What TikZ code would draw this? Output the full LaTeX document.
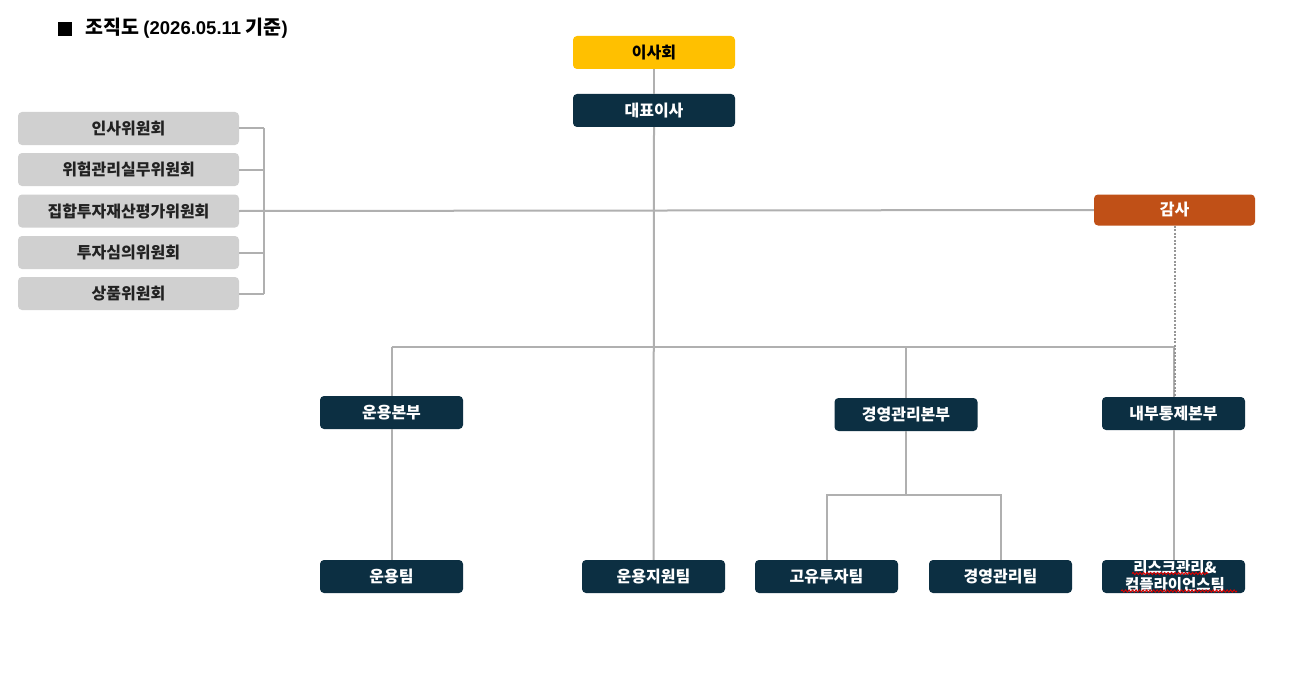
\documentclass[tikz,border=0pt]{standalone}
\usepackage{fontspec}
\setmainfont{Noto Sans CJK KR}
\newfontfamily\latinb{Liberation Sans}
\usetikzlibrary{decorations.pathmorphing}
\definecolor{navy}{HTML}{0C2F42}
\definecolor{boardc}{HTML}{FFC000}
\definecolor{auditc}{HTML}{C05017}
\definecolor{commc}{HTML}{D0D0D0}
\definecolor{linec}{HTML}{B0B0B0}
\definecolor{commtext}{HTML}{222222}
\tikzset{
  box/.style={rectangle, rounded corners=4pt, minimum width=143pt, minimum height=33pt, inner sep=0pt,
    font=\bfseries\fontsize{16}{18}\selectfont, align=center},
  navybox/.style={box, fill=navy, text=white},
  topbox/.style={box, minimum width=162pt},
  commbox/.style={box, fill=commc, text=commtext, minimum width=221pt},
  conn/.style={draw=linec, line width=2pt},
  dotconn/.style={draw=linec!85!black, line width=2pt, dash pattern=on 2pt off 1.5pt},
  squiggle/.style={draw=red!85!black, line width=1pt, decorate, decoration={snake, amplitude=1pt, segment length=3.5pt}}
}
\begin{document}
\begin{tikzpicture}[x=1pt,y=-1pt]
\useasboundingbox (0,0) rectangle (1303,690);
\fill[white] (0,0) rectangle (1303,690);

% title
\fill[black] (58,22) rectangle (72,36);
\node[anchor=base west, inner sep=0pt, font=\bfseries\fontsize{19.5}{22}\selectfont] (title) at (85,35)
  {조직도 {\latinb\fontsize{18.5}{20}\selectfont (2026.05.11} 기준{\latinb\fontsize{18.5}{20}\selectfont )}};

% top
\node[topbox, fill=boardc, text=black] (board) at (654,52.5) {이사회};
\node[topbox, fill=navy, text=white] (ceo) at (654,110.5) {대표이사};
\node[topbox, fill=auditc, text=white, minimum width=161pt, minimum height=31pt] (audit) at (1174.5,210) {감사};

% committees
\node[commbox] (c1) at (128.5,128.5) {인사위원회};
\node[commbox] (c2) at (128.5,169.5) {위험관리실무위원회};
\node[commbox] (c3) at (128.5,211) {집합투자재산평가위원회};
\node[commbox] (c4) at (128.5,252.5) {투자심의위원회};
\node[commbox] (c5) at (128.5,293.5) {상품위원회};

% divisions
\node[navybox] (div1) at (391.5,412.5) {운용본부};
\node[navybox] (div2) at (906,414.5) {경영관리본부};
\node[navybox] (div3) at (1173.5,413.5) {내부통제본부};

% teams
\node[navybox] (t1) at (391.5,576.5) {운용팀};
\node[navybox] (t2) at (653.5,576.5) {운용지원팀};
\node[navybox] (t3) at (826.5,576.5) {고유투자팀};
\node[navybox] (t4) at (1000.5,576.5) {경영관리팀};
\node[navybox] (t5) at (1173.5,576.5) {};

% connectors
\coordinate (cbar) at (264,211);
\foreach \c in {c1,c2,c3,c4,c5} { \draw[conn] (\c.east) -- (\c.east -| cbar); }
\draw[conn] (c1.east -| cbar) -- (c5.east -| cbar);
\draw[conn] (c3.east) -- (audit.west);
\draw[conn] (board.south) -- (ceo.north);
\draw[conn] (ceo.south) -- (t2.north);

\coordinate (busL) at (391.5,347);
\coordinate (busR) at (1174,347);
\draw[conn] (busL) -- (busR);
\draw[conn] (div1.north) -- (div1.north |- busL);
\draw[conn] (div2.north) -- (div2.north |- busL);
\draw[conn] (div3.north) -- (div3.north |- busL);
\draw[dotconn] (audit.south) -- (audit.south |- div3.north);

\draw[conn] (div1.south) -- (t1.north);
\coordinate (gj) at (906,495);
\draw[conn] (div2.south) -- (gj);
\draw[conn] (t3.north) |- (gj) -| (t4.north);
\draw[conn] (div3.south) -- (t5.north);

% two-line label drawn over the connector end
\node[inner sep=0pt, text=white, align=center, font=\bfseries\fontsize{15.5}{17}\selectfont] (t5text) at (1175,576.5) {리스크관리\&\\컴플라이언스팀};

% spell-check underlines
\draw[squiggle] (1132,573.5) -- (1208,573.5);
\draw[squiggle] (1121,591) -- (1237,591);
\end{tikzpicture}
\end{document}
